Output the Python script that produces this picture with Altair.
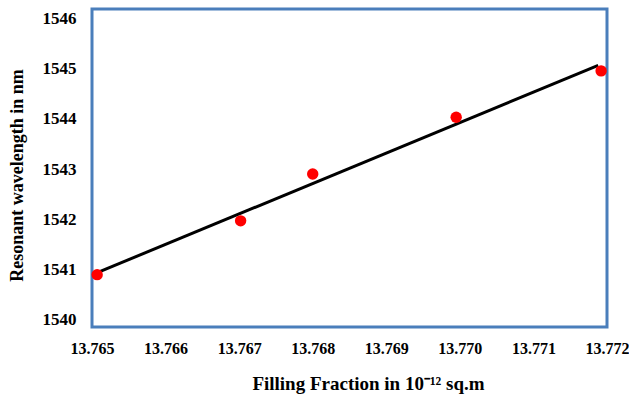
import altair as alt
import pandas as pd

# Data
fill_fraction = [13.76507, 13.76702, 13.76800, 13.76995, 13.77192]
wavelength = [1540.90, 1541.97, 1542.90, 1544.03, 1544.95]
x_ticks = [13.765, 13.766, 13.767, 13.768, 13.769, 13.770, 13.771, 13.772]
y_ticks = [1540, 1541, 1542, 1543, 1544, 1545, 1546]
fit_extent = [13.76508, 13.77188]

df = pd.DataFrame({"x": fill_fraction, "y": wavelength})

FONT = "'Liberation Serif', 'Times New Roman', serif"

x_enc = alt.X(
    "x:Q",
    scale=alt.Scale(domain=[13.765, 13.772], nice=False, zero=False),
    axis=alt.Axis(
        values=x_ticks,
        format=".3f",
        title="Filling Fraction  in 10⁻¹² sq.m",
        titleX=276,
        titleY=62,
        titleFontSize=19,
        titleBaseline="alphabetic",
        labelPadding=13,
        labelFontSize=16,
        labelFlush=False,
        labelOverlap=False,
    ),
)
y_enc = alt.Y(
    "y:Q",
    scale=alt.Scale(domain=[1539.86, 1546.18], nice=False, zero=False),
    axis=alt.Axis(
        values=y_ticks,
        format="d",
        title="Resonant wavelength in nm",
        titleX=-70,
        titleY=166,
        titleBaseline="alphabetic",
        labelPadding=16,
        labelFlush=False,
        labelOverlap=False,
    ),
)

base = alt.Chart(df)

fit = base.transform_regression("x", "y", extent=fit_extent).mark_line(
    color="black", strokeWidth=3
).encode(x=x_enc, y=y_enc)

points = base.mark_point(
    shape="circle", filled=True, color="#ff0000", size=130, opacity=1
).encode(x=x_enc, y=y_enc)

chart = (
    alt.layer(fit, points)
    .properties(
        width=515,
        height=318,
        autosize=alt.AutoSizeParams(type="none"),
        padding={"left": 92, "top": 9, "right": 22, "bottom": 68},
        background="white",
    )
    .configure_view(stroke="#4a7ebb", strokeWidth=3)
    .configure_axis(
        domain=False,
        ticks=False,
        grid=False,
        labelFont=FONT,
        labelFontSize=17,
        labelFontWeight="bold",
        labelColor="black",
        titleFont=FONT,
        titleFontSize=18,
        titleFontWeight="bold",
        titleColor="black",
    )
)

chart.save("out.html", embed_options={"renderer": "svg", "actions": False})
